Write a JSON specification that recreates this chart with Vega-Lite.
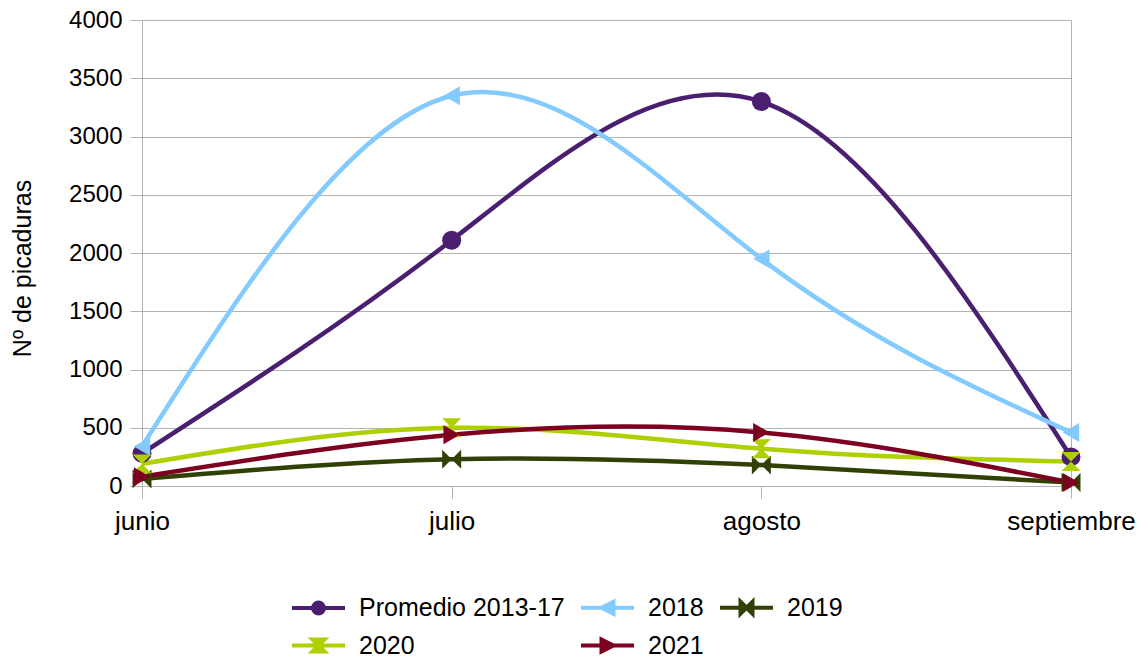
{
  "$schema": "https://vega.github.io/schema/vega-lite/v6.json",
  "width": 929,
  "height": 466,
  "autosize": {"type": "none"},
  "padding": {"left": 142, "top": 20, "right": 68, "bottom": 172},
  "background": "white",
  "config": {
    "font": "Liberation Sans",
    "view": {"stroke": "#b3b3b3", "strokeWidth": 1}
  },
  "data": {
    "values": [
      {"serie": "Promedio 2013-17", "mes": "junio", "valor": 280},
      {"serie": "Promedio 2013-17", "mes": "julio", "valor": 2110},
      {"serie": "Promedio 2013-17", "mes": "agosto", "valor": 3300},
      {"serie": "Promedio 2013-17", "mes": "septiembre", "valor": 250},
      {"serie": "2018", "mes": "junio", "valor": 340},
      {"serie": "2018", "mes": "julio", "valor": 3350},
      {"serie": "2018", "mes": "agosto", "valor": 1950},
      {"serie": "2018", "mes": "septiembre", "valor": 460},
      {"serie": "2019", "mes": "junio", "valor": 60},
      {"serie": "2019", "mes": "julio", "valor": 230},
      {"serie": "2019", "mes": "agosto", "valor": 180},
      {"serie": "2019", "mes": "septiembre", "valor": 30},
      {"serie": "2020", "mes": "junio", "valor": 190},
      {"serie": "2020", "mes": "julio", "valor": 500},
      {"serie": "2020", "mes": "agosto", "valor": 320},
      {"serie": "2020", "mes": "septiembre", "valor": 210},
      {"serie": "2021", "mes": "junio", "valor": 80},
      {"serie": "2021", "mes": "julio", "valor": 440},
      {"serie": "2021", "mes": "agosto", "valor": 460},
      {"serie": "2021", "mes": "septiembre", "valor": 30}
    ]
  },
  "resolve": {"legend": {"shape": "independent"}},
  "encoding": {
    "x": {
      "field": "mes",
      "type": "ordinal",
      "sort": ["junio", "julio", "agosto", "septiembre"],
      "scale": {"type": "point", "padding": 0},
      "axis": {
        "title": null,
        "labelAngle": 0,
        "labelFontSize": 26,
        "labelColor": "black",
        "labelPadding": 10,
        "tickSize": 12,
        "tickColor": "#b3b3b3",
        "domainColor": "#b3b3b3",
        "grid": false
      }
    },
    "y": {
      "field": "valor",
      "type": "quantitative",
      "scale": {"domain": [0, 4000], "nice": false},
      "axis": {
        "title": "Nº de picaduras",
        "titleFontSize": 25,
        "titleFontWeight": "normal",
        "titleColor": "black",
        "titleX": -120,
        "titleY": 248,
        "titleBaseline": "middle",
        "format": "d",
        "values": [0, 500, 1000, 1500, 2000, 2500, 3000, 3500, 4000],
        "labelFontSize": 24,
        "labelColor": "black",
        "labelPadding": 8,
        "tickSize": 12,
        "tickColor": "#b3b3b3",
        "domainColor": "#b3b3b3",
        "gridColor": "#b3b3b3",
        "grid": true
      }
    },
    "color": {
      "field": "serie",
      "type": "nominal",
      "scale": {
        "domain": ["Promedio 2013-17", "2018", "2019", "2020", "2021"],
        "range": ["#4b1f6f", "#83caff", "#314004", "#aecf00", "#7e0021"]
      },
      "legend": {
        "orient": "none",
        "direction": "horizontal",
        "legendX": 164,
        "legendY": 575,
        "columns": 3,
        "title": null,
        "labelFontSize": 25,
        "labelColor": "black",
        "labelLimit": 400,
        "symbolSize": 400,
        "labelOffset": 28,
        "columnPadding": 8,
        "rowPadding": 9,
        "symbolStrokeWidth": 4,
        "encode": {
          "symbols": {
            "update": {
              "shape": {"signal": "datum.value === 'Promedio 2013-17' ? 'M-2.65,0L2.65,0M-0.55,0A0.55,0.55,0,1,0,0.55,0A0.55,0.55,0,1,0,-0.55,0Z' : datum.value === '2018' ? 'M-2.65,0L2.65,0M-0.6,0L0.6,-0.6L0.6,0.6Z' : datum.value === '2019' ? 'M-2.65,0L2.65,0M-0.6,-0.6L0.6,0.6L0.6,-0.6L-0.6,0.6Z' : datum.value === '2020' ? 'M-2.65,0L2.65,0M-0.6,-0.6L0.6,-0.6L-0.6,0.6L0.6,0.6Z' : 'M-2.65,0L2.65,0M0.6,0L-0.6,-0.6L-0.6,0.6Z'"},
              "fill": {"signal": "scale('color', datum.value)"},
              "stroke": {"signal": "scale('color', datum.value)"},
              "strokeWidth": {"value": 4},
              "opacity": {"value": 1}
            }
          }
        }
      }
    }
  },
  "layer": [
    {
      "mark": {"type": "line", "interpolate": "natural", "strokeWidth": 4.5}
    },
    {
      "mark": {"type": "point", "filled": true, "opacity": 1, "size": 360},
      "encoding": {
        "shape": {
          "field": "serie",
          "type": "nominal",
          "scale": {
            "domain": ["Promedio 2013-17", "2018", "2019", "2020", "2021"],
            "range": ["circle", "triangle-left", "M-1,-1L1,1L1,-1L-1,1Z", "M-1,-1L1,-1L-1,1L1,1Z", "triangle-right"]
          },
          "legend": null
        }
      }
    }
  ]
}
